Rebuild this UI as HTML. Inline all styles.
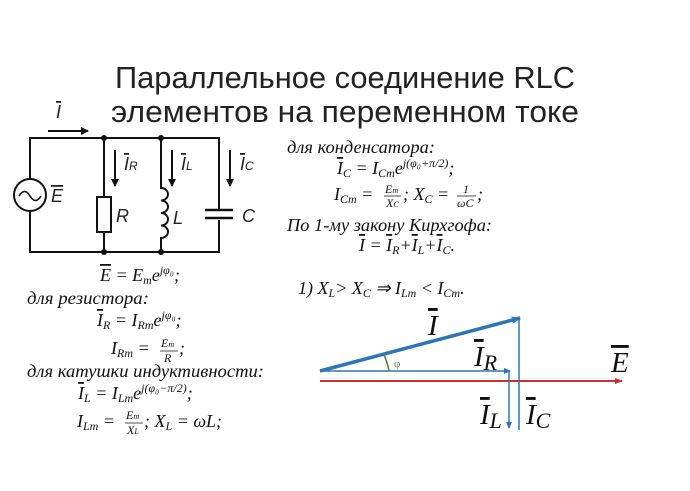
<!DOCTYPE html>
<html><head><meta charset="utf-8"><style>
html,body{margin:0;padding:0;background:#fff;}
svg{display:block}
.t{font-family:"Liberation Sans",sans-serif;font-size:31px;fill:#222}
.m{font-family:"Liberation Serif",serif;font-style:italic;font-size:18px;fill:#111}
.s{font-size:12px}
.o{text-decoration:overline}
.c{font-family:"Liberation Sans",sans-serif;font-style:italic;font-size:18px;fill:#222}
</style></head><body>
<svg width="690" height="491" viewBox="0 0 690 491" xmlns="http://www.w3.org/2000/svg">
<defs>
<marker id="ab" markerWidth="8" markerHeight="8" refX="7" refY="4" orient="auto" markerUnits="userSpaceOnUse"><path d="M0,0 L8,4 L0,8 Z" fill="#111"/></marker>
<marker id="bl" markerWidth="10" markerHeight="8" refX="9" refY="4" orient="auto" markerUnits="userSpaceOnUse"><path d="M0,0 L10,4 L0,8 L3,4 Z" fill="#2e75b6"/></marker>
<marker id="bls" markerWidth="7" markerHeight="6" refX="6" refY="3" orient="auto" markerUnits="userSpaceOnUse"><path d="M0,0 L7,3 L0,6 Z" fill="#2e75b6"/></marker>
<marker id="rd" markerWidth="8" markerHeight="6" refX="7" refY="3" orient="auto" markerUnits="userSpaceOnUse"><path d="M0,0 L8,3 L0,6 Z" fill="#d03030"/></marker>
</defs>
<text class="t" x="345" y="88" text-anchor="middle" textLength="460" lengthAdjust="spacingAndGlyphs">Параллельное соединение RLC</text>
<text class="t" x="345" y="122" text-anchor="middle" textLength="468" lengthAdjust="spacingAndGlyphs">элементов на переменном токе</text>

<!-- circuit -->
<g stroke="#111" stroke-width="2" fill="none">
<path d="M30,179 V138 H219 V210 M219,220 V252 H30 V211"/>
<path d="M104,138 V197 M104,232 V252"/>
<rect x="97" y="197" width="14" height="35" fill="#fff"/>
<path d="M161,138 V188 a7,6.25 0 0 1 0,12.5 a7,6.25 0 0 1 0,12.5 a7,6.25 0 0 1 0,12.5 a7,6.25 0 0 1 0,12.5 V252"/>
<path d="M205,210 H233 M205,218 H233" stroke-width="2.5"/>
<circle cx="30" cy="195" r="16"/>
<path d="M19,196 q5.5,-9 11,0 t11,0" stroke-width="1.6"/>
<path d="M48,131 H88" marker-end="url(#ab)"/>
<path d="M115,150 V186" marker-end="url(#ab)"/>
<path d="M172,150 V186" marker-end="url(#ab)"/>
<path d="M230,150 V186" marker-end="url(#ab)"/>
</g>
<g fill="#111"><circle cx="104" cy="138" r="3"/><circle cx="161" cy="138" r="3"/><circle cx="104" cy="252" r="3"/><circle cx="161" cy="252" r="3"/></g>
<text class="c" x="56" y="118" text-decoration="overline">I</text>
<text class="c" x="51" y="202" text-decoration="overline">E</text>
<text class="c" x="124" y="170"><tspan text-decoration="overline">I</tspan><tspan font-size="12">R</tspan></text>
<text class="c" x="181" y="170"><tspan text-decoration="overline">I</tspan><tspan font-size="12">L</tspan></text>
<text class="c" x="240" y="170"><tspan text-decoration="overline">I</tspan><tspan font-size="12">C</tspan></text>
<text class="c" x="116" y="222">R</text>
<text class="c" x="173" y="224">L</text>
<text class="c" x="242" y="222">C</text>

<!-- left formulas -->
<text class="m" x="100" y="281"><tspan class="o">E</tspan> = E<tspan class="s" dy="3">m</tspan><tspan dy="-3">e</tspan><tspan class="s" dy="-7">jφ₀</tspan><tspan dy="7">;</tspan></text>
<text class="m" x="27" y="304" textLength="122" lengthAdjust="spacingAndGlyphs">для резистора:</text>
<text class="m" x="97" y="326"><tspan class="o">I</tspan><tspan class="s" dy="3">R</tspan><tspan dy="-3"> = I</tspan><tspan class="s" dy="3">Rm</tspan><tspan dy="-3">e</tspan><tspan class="s" dy="-7">jφ₀</tspan><tspan dy="7">;</tspan></text>
<text class="m" x="111" y="354">I<tspan class="s" dy="3">Rm</tspan><tspan dy="-3"> = </tspan></text>
<text class="m s" x="161" y="347">E<tspan font-size="8">m</tspan></text>
<line x1="160" y1="351" x2="178" y2="351" stroke="#111" stroke-width="0.8"/>
<text class="m s" x="164" y="362">R</text>
<text class="m" x="179" y="354">;</text>
<text class="m" x="27" y="377" textLength="237" lengthAdjust="spacingAndGlyphs">для катушки индуктивности:</text>
<text class="m" x="78" y="399"><tspan class="o">I</tspan><tspan class="s" dy="3">L</tspan><tspan dy="-3"> = I</tspan><tspan class="s" dy="3">Lm</tspan><tspan dy="-3">e</tspan><tspan class="s" dy="-7">j(φ₀−π/2)</tspan><tspan dy="7">;</tspan></text>
<text class="m" x="77" y="427">I<tspan class="s" dy="3">Lm</tspan><tspan dy="-3"> = </tspan></text>
<text class="m s" x="126" y="419">E<tspan font-size="8">m</tspan></text>
<line x1="125" y1="423" x2="143" y2="423" stroke="#111" stroke-width="0.8"/>
<text class="m s" x="127" y="434">X<tspan font-size="8">L</tspan></text>
<text class="m" x="144" y="427">; X<tspan class="s" dy="3">L</tspan><tspan dy="-3"> = ωL;</tspan></text>

<!-- right formulas -->
<text class="m" x="287" y="153" textLength="148" lengthAdjust="spacingAndGlyphs">для конденсатора:</text>
<text class="m" x="337" y="174"><tspan class="o">I</tspan><tspan class="s" dy="3">C</tspan><tspan dy="-3"> = I</tspan><tspan class="s" dy="3">Cm</tspan><tspan dy="-3">e</tspan><tspan class="s" dy="-7">j(φ₀+π/2)</tspan><tspan dy="7">;</tspan></text>
<text class="m" x="334" y="200">I<tspan class="s" dy="3">Cm</tspan><tspan dy="-3"> = </tspan></text>
<text class="m s" x="385" y="193">E<tspan font-size="8">m</tspan></text>
<line x1="384" y1="196" x2="401" y2="196" stroke="#111" stroke-width="0.8"/>
<text class="m s" x="386" y="207">X<tspan font-size="8">C</tspan></text>
<text class="m" x="403" y="200">; X<tspan class="s" dy="3">C</tspan><tspan dy="-3"> = </tspan></text>
<text class="m s" x="463" y="193">1</text>
<line x1="457" y1="196" x2="476" y2="196" stroke="#111" stroke-width="0.8"/>
<text class="m s" x="457" y="207">ωC</text>
<text class="m" x="477" y="200">;</text>
<text class="m" x="287" y="231" textLength="205" lengthAdjust="spacingAndGlyphs">По 1-му закону Кирхгофа:</text>
<text class="m" x="359" y="251"><tspan class="o">I</tspan> = <tspan class="o">I</tspan><tspan class="s" dy="3">R</tspan><tspan dy="-3">+</tspan><tspan class="o">I</tspan><tspan class="s" dy="3">L</tspan><tspan dy="-3">+</tspan><tspan class="o">I</tspan><tspan class="s" dy="3">C</tspan><tspan dy="-3">.</tspan></text>
<text class="m" x="298" y="294">1) X<tspan class="s" dy="3">L</tspan><tspan dy="-3">&gt; X</tspan><tspan class="s" dy="3">C</tspan><tspan dy="-3"> ⇒ I</tspan><tspan class="s" dy="3">Lm</tspan><tspan dy="-3"> &lt; I</tspan><tspan class="s" dy="3">Cm</tspan><tspan dy="-3">.</tspan></text>

<!-- vector diagram -->
<line x1="320" y1="381" x2="622" y2="381" stroke="#d03030" stroke-width="2" marker-end="url(#rd)"/>
<line x1="320" y1="371" x2="510" y2="371" stroke="#2e75b6" stroke-width="1.5" marker-end="url(#bls)"/>
<line x1="509" y1="371" x2="509" y2="428" stroke="#2e75b6" stroke-width="1.5" marker-end="url(#bls)"/>
<line x1="519" y1="430" x2="519" y2="319" stroke="#2e75b6" stroke-width="1.5"/>
<line x1="320" y1="371" x2="520" y2="318" stroke="#2e75b6" stroke-width="3.5" marker-end="url(#bl)"/>
<path d="M384,355 A65,65 0 0 1 389,371" stroke="#548235" stroke-width="1.5" fill="none"/>
<text x="394" y="367" font-family="Liberation Serif,serif" font-size="11" fill="#548235">φ</text>
<g font-family="Liberation Serif,serif" font-style="italic" font-size="29" fill="#111">
<text x="428" y="335" text-decoration="overline">I</text>
<text x="474" y="366"><tspan text-decoration="overline">I</tspan><tspan font-size="22" dy="4">R</tspan></text>
<text x="611" y="372" text-decoration="overline">E</text>
<text x="480" y="424"><tspan text-decoration="overline">I</tspan><tspan font-size="22" dy="4">L</tspan></text>
<text x="526" y="424"><tspan text-decoration="overline">I</tspan><tspan font-size="22" dy="4">C</tspan></text>
</g>
</svg>
</body></html>
